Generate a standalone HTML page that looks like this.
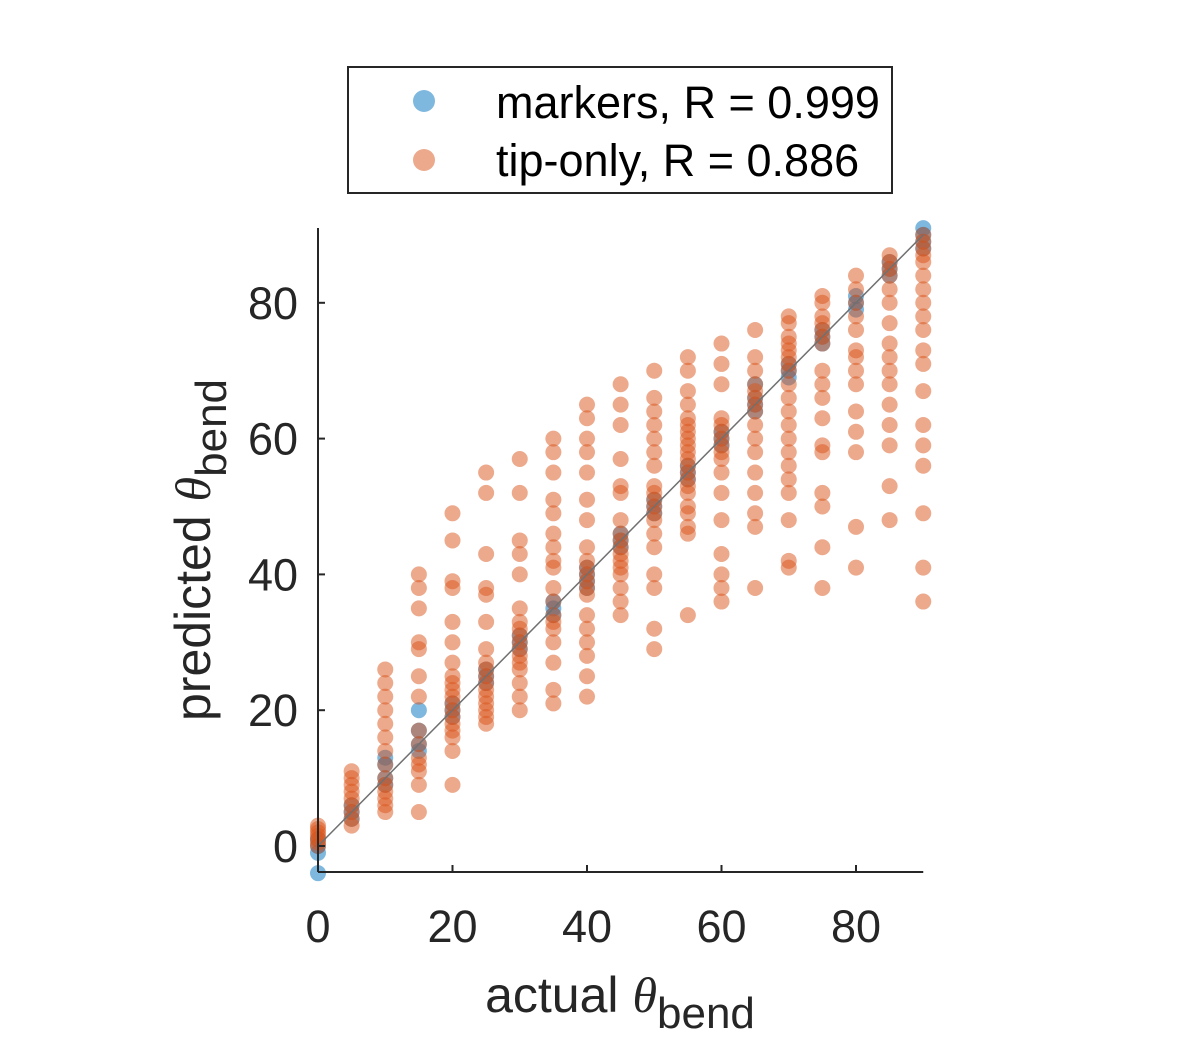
<!DOCTYPE html>
<html><head><meta charset="utf-8"><style>
body{margin:0;background:#fff;}
svg{display:block;font-family:"Liberation Sans",Arial,sans-serif;}
</style></head><body>
<svg id="chart" width="1200" height="1050" viewBox="0 0 1200 1050">
<rect width="1200" height="1050" fill="#fff"/>
<g id="plot"></g>
<g id="axes"></g>
<text x="620" y="1012" font-size="50" text-anchor="middle" fill="#262626">actual <tspan font-family="Liberation Serif" font-style="italic">θ</tspan><tspan font-size="44" dy="16">bend</tspan></text>
<text transform="translate(210,550) rotate(-90)" font-size="50" text-anchor="middle" fill="#262626">predicted <tspan font-family="Liberation Serif" font-style="italic">θ</tspan><tspan font-size="44" dy="16">bend</tspan></text>
<g>
<rect x="348" y="67" width="544" height="126" fill="#fff" stroke="#262626" stroke-width="2"/>
<circle cx="424" cy="101" r="11" fill="#0072BD" fill-opacity="0.5"/>
<text x="496" y="118" font-size="45" fill="#000">markers, R = 0.999</text>
<circle cx="424" cy="160" r="11" fill="#D95319" fill-opacity="0.5"/>
<text x="496" y="176" font-size="45" fill="#000">tip-only, R = 0.886</text>
</g>
</svg>
<script>
const xCats=[0,5,10,15,20,25,30,35,40,45,50,55,60,65,70,75,80,85,90];
const tipVals=[
[0,0.5,1,1.5,2,2.5,3],
[3,4,5,6,7,8,9,10,11],
[5,6,7,8,9,10,12,14,16,18,20,22,24,26],
[5,9,11,12,13,15,17,22,25,29,30,35,38,40],
[9,14,16,17,18,19,20,21,22,23,24,25,27,30,33,38,39,45,49],
[18,19,20,21,22,23,24,25,26,27,29,33,37,38,43,52,55],
[20,22,24,26,27,28,29,30,31,32,33,35,40,43,45,52,57],
[21,23,27,30,32,33,34,36,38,41,42,44,46,49,51,55,58,60],
[22,25,28,30,32,34,37,38,39,40,41,42,44,48,51,55,58,60,63,65],
[34,36,38,40,41,42,43,44,45,46,48,52,53,57,62,65,68],
[29,32,38,40,44,46,48,49,50,51,52,53,56,58,60,62,64,66,70],
[34,46,47,49,50,52,53,54,55,56,57,58,59,60,61,62,63,65,67,70,72],
[36,38,40,43,48,52,55,57,58,59,60,61,62,63,68,71,74],
[38,47,49,52,55,58,60,62,64,65,66,67,68,70,72,76],
[41,42,48,52,54,56,58,60,62,64,66,68,70,71,72,73,74,75,77,78],
[38,44,50,52,58,59,63,66,68,70,74,75,76,77,78,80,81],
[41,47,58,61,64,68,70,72,73,76,78,80,82,84],
[48,53,59,62,65,68,70,72,74,77,80,82,84,85,86,87],
[36,41,49,56,59,62,67,71,73,76,78,80,82,84,86,87,88,89,90]];
const markerVals=[
[-4,-1,0,1],[4,5,6],[9,10,12,13],[14,15,17,20],[19,20,21],[24,25,26],[29,30,31],[34,35,36],[38,39,40,41],[44,45,46],[49,50,51],[54,55,56],[59,60,61],[64,65,66,68],[69,70,71],[74,75,76],[79,80,81],[84,85,86],[88,89,90,91]];
const xTicks=[0,20,40,60,80];
const yTicks=[0,20,40,60,80];
const X=v=>318+v*6.725, Y=v=>846-v*6.79;
const NS="http://www.w3.org/2000/svg";
const plot=document.getElementById('plot'), axes=document.getElementById('axes');
function mk(t,a,p){const e=document.createElementNS(NS,t);for(const k in a)e.setAttribute(k,a[k]);p.appendChild(e);return e;}
xCats.forEach((x,i)=>{markerVals[i].forEach(v=>{
 const c=mk('circle',{cx:X(x),cy:Y(v),r:8,fill:'#0072BD','fill-opacity':0.5},plot);
 
 
});});
xCats.forEach((x,i)=>{tipVals[i].forEach(v=>{
 const c=mk('circle',{cx:X(x),cy:Y(v),r:8,fill:'#D95319','fill-opacity':0.5},plot);
 
 
});});
const d=mk('line',{x1:X(0),y1:Y(0),x2:X(90),y2:Y(90),stroke:'#707070','stroke-width':1.5},plot);


const xa=mk('line',{x1:318,y1:872,x2:X(90),y2:872,stroke:'#262626','stroke-width':2},axes);


const ya=mk('line',{x1:318,y1:228,x2:318,y2:872,stroke:'#262626','stroke-width':2},axes);


xTicks.forEach(t=>{
 mk('line',{x1:X(t),y1:872,x2:X(t),y2:865,stroke:'#262626','stroke-width':2},axes);
 const l=mk('text',{x:X(t),y:942,'font-size':45,'text-anchor':'middle',fill:'#262626'},axes);
 l.textContent=t;
 
 
});
yTicks.forEach(t=>{
 mk('line',{x1:318,y1:Y(t),x2:325,y2:Y(t),stroke:'#262626','stroke-width':2},axes);
 const l=mk('text',{x:298,y:Y(t)+16,'font-size':45,'text-anchor':'end',fill:'#262626'},axes);
 l.textContent=t;
 
 
});
</script>
</body></html>
